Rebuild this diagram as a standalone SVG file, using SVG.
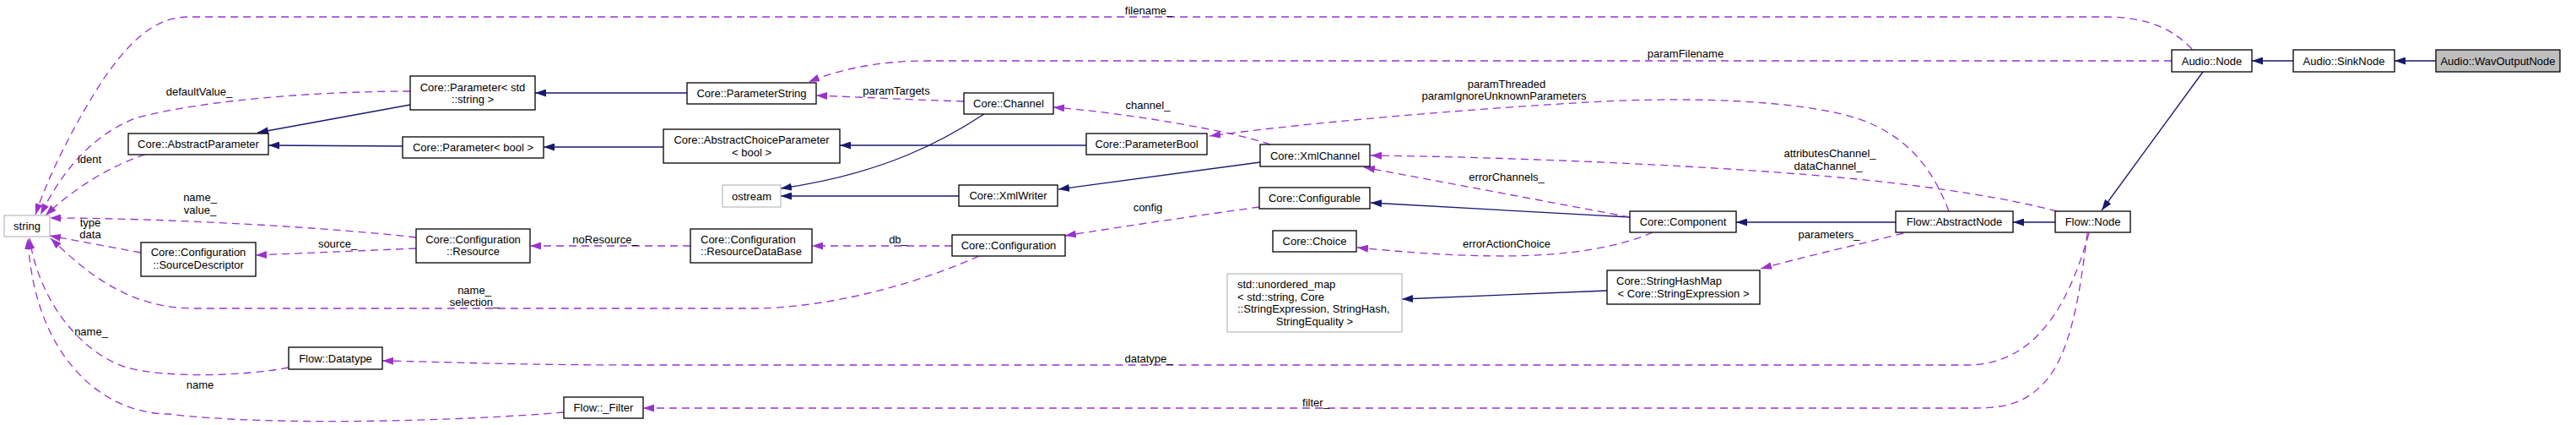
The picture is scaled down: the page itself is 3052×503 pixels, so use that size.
<svg xmlns="http://www.w3.org/2000/svg" width="3052" height="503" viewBox="0 0 3052 503">
<style>
.n rect{fill:#fff;stroke:#000;stroke-width:1.3}
.g rect{stroke:#bfbfbf}
.h rect{fill:#bfbfbf}
text{font-family:"Liberation Sans",Arial,sans-serif;font-size:13px;fill:#000}
.c{text-anchor:middle}
.s{fill:none;stroke:#191970;stroke-width:1.3;marker-end:url(#ab)}
.d{fill:none;stroke:#9a32cd;stroke-width:1.3;stroke-dasharray:9,6;marker-end:url(#ap)}
</style>
<defs>
<marker id="ab" viewBox="0 0 13 9" refX="13" refY="4.5" markerWidth="13" markerHeight="9" markerUnits="userSpaceOnUse" orient="auto"><path d="M0,0L13,4.5L0,9z" fill="#191970"/></marker>
<marker id="ap" viewBox="0 0 13 9" refX="13" refY="4.5" markerWidth="13" markerHeight="9" markerUnits="userSpaceOnUse" orient="auto"><path d="M0,0L13,4.5L0,9z" fill="#9a32cd"/></marker>
</defs>
<rect width="3052" height="503" fill="#fff"/>
<g id="edges">
<path class="s" d="M2886,72L2837,72"/>
<path class="s" d="M2717,72L2668,72"/>
<path class="s" d="M2610,85L2490,249"/>
<path class="s" d="M2435,263L2385,263"/>
<path class="s" d="M2246,263L2057,263"/>
<path class="s" d="M1931,257L1624,240"/>
<path class="s" d="M1493,192L1254,224"/>
<path class="s" d="M1136,232L925,232"/>
<path class="s" d="M1166,135C1120,165 1050,205 925,223"/>
<path class="s" d="M1287,172L995,172"/>
<path class="s" d="M786,174L644,174"/>
<path class="s" d="M477,173L318,172"/>
<path class="s" d="M486,124L305,157"/>
<path class="s" d="M814,110L634,110"/>
<path class="s" d="M1904,344L1661,354"/>
<path class="d" d="M2597,58C2575,35 2545,20 2495,20L223,20C180,20 150,55 125,90C95,135 60,200 42,254"/>
<path class="d" d="M486,108C380,108 240,118 160,140C110,160 75,200 48,254"/>
<path class="d" d="M172,183C130,196 85,225 54,255"/>
<path class="d" d="M2573,72L1100,72C1040,72 995,82 958,97"/>
<path class="d" d="M1142,120C1080,118 1020,115 967,113"/>
<path class="d" d="M1505,171C1460,155 1330,133 1248,127"/>
<path class="d" d="M2309,250C2290,200 2260,160 2200,140C2130,118 2000,115 1900,120C1750,128 1550,145 1433,161"/>
<path class="d" d="M2437,250C2380,235 2300,222 2200,212C2050,197 1800,186 1624,184"/>
<path class="d" d="M1931,257L1616,198"/>
<path class="d" d="M1492,245C1420,255 1330,268 1262,279"/>
<path class="d" d="M1128,291L962,291"/>
<path class="d" d="M818,291L628,291"/>
<path class="d" d="M493,294L303,302"/>
<path class="d" d="M493,281C400,270 200,258 59,258"/>
<path class="d" d="M167,299L59,279"/>
<path class="d" d="M1160,303C1100,330 1000,362 900,365L230,365C150,365 100,320 60,282"/>
<path class="d" d="M342,435C290,445 200,448 150,435C90,415 45,350 35,282"/>
<path class="d" d="M668,488C550,498 320,505 200,490C120,490 40,420 33,282"/>
<path class="d" d="M1958,275C1920,292 1860,303 1780,303C1720,303 1660,298 1608,293"/>
<path class="d" d="M2255,276C2200,290 2140,303 2086,318"/>
<path class="d" d="M2475,276C2455,345 2420,432 2330,432L760,432C600,432 520,428 453,427"/>
<path class="d" d="M2473,276C2465,340 2455,420 2420,455C2400,475 2380,483 2340,483L762,483"/>
</g>
<g id="labels">
<text class="c" x="1361" y="16.5">filename_</text>
<text class="c" x="1997" y="67.5">paramFilename</text>
<text class="c" x="1785" y="103.5">paramThreaded</text>
<text class="c" x="1782" y="117.5">paramIgnoreUnknownParameters</text>
<text class="c" x="236" y="112.5">defaultValue_</text>
<text class="c" x="106" y="192.5">ident</text>
<text class="c" x="237" y="237.5">name_</text>
<text class="c" x="237" y="252.5">value_</text>
<text class="c" x="107" y="267.5">type</text>
<text class="c" x="107" y="281.5">data</text>
<text class="c" x="400" y="292.5">source_</text>
<text class="c" x="717" y="287.5">noResource_</text>
<text class="c" x="1064" y="287.5">db_</text>
<text class="c" x="1360" y="249.5">config</text>
<text class="c" x="562" y="347.5">name_</text>
<text class="c" x="562" y="361.5">selection_</text>
<text class="c" x="108" y="396.5">name_</text>
<text class="c" x="237" y="459.5">name</text>
<text class="c" x="1361" y="428.5">datatype_</text>
<text class="c" x="1559" y="480.5">filter_</text>
<text class="c" x="1062" y="111.5">paramTargets</text>
<text class="c" x="1360" y="128.5">channel_</text>
<text class="c" x="1785" y="213.5">errorChannels_</text>
<text class="c" x="1785" y="292.5">errorActionChoice</text>
<text class="c" x="2168" y="185.5">attributesChannel_</text>
<text class="c" x="2166" y="200.5">dataChannel_</text>
<text class="c" x="2167" y="281.5">parameters_</text>
</g>
<g id="n_string" class="n g"><rect x="5" y="255" width="54" height="25"/><text class="c" x="32" y="272">string</text></g>
<g id="n_abstractparameter" class="n"><rect x="152" y="158" width="166" height="25"/><text class="c" x="235" y="175">Core::AbstractParameter</text></g>
<g id="n_parameter_string" class="n"><rect x="486" y="90" width="148" height="40"/><text class="c" x="560" y="107.5">Core::Parameter&lt; std</text><text class="c" x="560" y="121.5">::string &gt;</text></g>
<g id="n_parameter_bool" class="n"><rect x="477" y="162" width="167" height="25"/><text class="c" x="560.5" y="179">Core::Parameter&lt; bool &gt;</text></g>
<g id="n_parameterstring" class="n"><rect x="814" y="98" width="153" height="25"/><text class="c" x="890.5" y="115">Core::ParameterString</text></g>
<g id="n_abstractchoiceparameter" class="n"><rect x="786" y="153" width="209" height="40"/><text class="c" x="890.5" y="169.5">Core::AbstractChoiceParameter</text><text class="c" x="890.5" y="184.5">&lt; bool &gt;</text></g>
<g id="n_ostream" class="n g"><rect x="856" y="219" width="69" height="26"/><text class="c" x="890.5" y="236.5">ostream</text></g>
<g id="n_channel" class="n"><rect x="1142" y="110" width="106" height="25"/><text class="c" x="1195" y="127">Core::Channel</text></g>
<g id="n_xmlwriter" class="n"><rect x="1136" y="219" width="117" height="25"/><text class="c" x="1194.5" y="236">Core::XmlWriter</text></g>
<g id="n_parameterbool" class="n"><rect x="1287" y="158" width="143" height="25"/><text class="c" x="1358.5" y="175">Core::ParameterBool</text></g>
<g id="n_xmlchannel" class="n"><rect x="1493" y="171" width="130" height="26"/><text class="c" x="1558" y="188.5">Core::XmlChannel</text></g>
<g id="n_configurable" class="n"><rect x="1492" y="222" width="131" height="25"/><text class="c" x="1557.5" y="239">Core::Configurable</text></g>
<g id="n_choice" class="n"><rect x="1508" y="273" width="99" height="25"/><text class="c" x="1557.5" y="290">Core::Choice</text></g>
<g id="n_component" class="n"><rect x="1931" y="250" width="126" height="25"/><text class="c" x="1994" y="267">Core::Component</text></g>
<g id="n_abstractnode" class="n"><rect x="2246" y="250" width="139" height="25"/><text class="c" x="2315.5" y="267">Flow::AbstractNode</text></g>
<g id="n_flownode" class="n"><rect x="2435" y="250" width="89" height="25"/><text class="c" x="2479.5" y="267">Flow::Node</text></g>
<g id="n_audionode" class="n"><rect x="2573" y="59" width="95" height="26"/><text class="c" x="2620.5" y="76.5">Audio::Node</text></g>
<g id="n_sinknode" class="n"><rect x="2717" y="59" width="120" height="26"/><text class="c" x="2777" y="76.5">Audio::SinkNode</text></g>
<g id="n_wavoutputnode" class="n h"><rect x="2886" y="59" width="147" height="26"/><text class="c" x="2959.5" y="76.5">Audio::WavOutputNode</text></g>
<g id="n_stringhashmap" class="n"><rect x="1904" y="320" width="181" height="40"/><text x="1915" y="336.5">Core::StringHashMap</text><text class="c" x="1994.5" y="351.5">&lt; Core::StringExpression &gt;</text></g>
<g id="n_unordered_map" class="n g"><rect x="1454" y="324" width="207" height="69"/><text x="1466" y="340.5">std::unordered_map</text><text x="1466" y="355.5">&lt; std::string, Core</text><text x="1466" y="369.5">::StringExpression, StringHash,</text><text class="c" x="1557.5" y="384.5">StringEquality &gt;</text></g>
<g id="n_configuration" class="n"><rect x="1128" y="278" width="134" height="25"/><text class="c" x="1195" y="295">Core::Configuration</text></g>
<g id="n_resourcedatabase" class="n"><rect x="818" y="271" width="144" height="40"/><text x="830" y="287.5">Core::Configuration</text><text class="c" x="890" y="301.5">::ResourceDataBase</text></g>
<g id="n_resource" class="n"><rect x="493" y="271" width="135" height="40"/><text class="c" x="560.5" y="287.5">Core::Configuration</text><text class="c" x="560.5" y="301.5">::Resource</text></g>
<g id="n_sourcedescriptor" class="n"><rect x="167" y="287" width="136" height="40"/><text class="c" x="235" y="302.5">Core::Configuration</text><text class="c" x="235" y="317.5">::SourceDescriptor</text></g>
<g id="n_datatype" class="n"><rect x="342" y="411" width="111" height="26"/><text class="c" x="397.5" y="428.5">Flow::Datatype</text></g>
<g id="n_filter" class="n"><rect x="668" y="470" width="94" height="25"/><text class="c" x="715" y="487">Flow::_Filter</text></g>
</svg>
